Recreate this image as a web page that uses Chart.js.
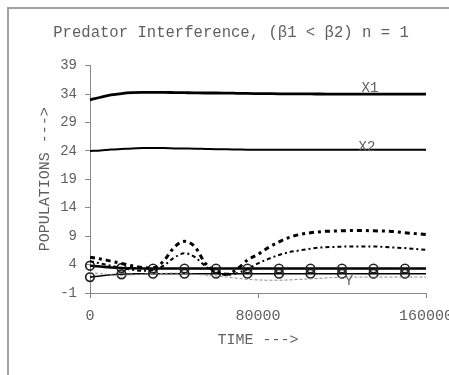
<!DOCTYPE html>
<html><head><meta charset="utf-8">
<script src="https://cdn.jsdelivr.net/npm/chart.js@4"></script>
<style>
html,body{margin:0;padding:0;background:#fff;}
#frame{position:absolute;left:7px;top:7px;width:470px;height:400px;border-left:2px solid #a0a0a0;border-top:2px solid #a0a0a0;}
#wrap{position:absolute;left:0;top:0;width:449px;height:375px;overflow:hidden;}
</style></head><body>
<div id="frame"></div>
<div id="wrap"><canvas id="c" width="449" height="375"></canvas></div>
<script>
// time points
const time = [0,5000,10000,15000,20000,25000,30000,35000,40000,45000,50000,55000,60000,65000,70000,75000,80000,85000,90000,95000,100000,105000,110000,115000,120000,125000,130000,135000,140000,145000,150000,155000,160000,162500];
const x1 = [33.0,33.45,33.85,34.1,34.25,34.3,34.3,34.3,34.28,34.25,34.22,34.2,34.2,34.18,34.15,34.12,34.1,34.08,34.06,34.05,34.04,34.03,34.02,34.01,34.0,34.0,34.0,34.0,34.0,34.0,34.0,34.0,34.0,34.0];
const x2 = [24.0,24.1,24.25,24.35,24.45,24.5,24.5,24.5,24.45,24.42,24.4,24.35,24.3,24.28,24.25,24.22,24.2,24.2,24.2,24.2,24.2,24.2,24.2,24.2,24.2,24.2,24.2,24.2,24.2,24.2,24.2,24.2,24.2,24.2];
const z1 = [5.3,5.0,4.6,4.2,3.8,3.5,3.4,4.6,7.0,8.1,7.1,4.2,2.8,2.3,3.2,4.8,5.8,7.0,8.0,8.8,9.3,9.6,9.8,9.9,9.95,10.0,10.0,9.95,9.9,9.8,9.6,9.45,9.3,9.2];
const z2 = [4.6,4.2,3.8,3.4,3.1,2.9,3.0,3.8,5.2,6.0,5.3,3.7,2.6,2.2,2.5,3.2,4.2,5.0,5.7,6.2,6.5,6.8,7.0,7.1,7.15,7.2,7.2,7.2,7.1,7.0,6.9,6.75,6.6,6.5];
const s3 = [3.8,3.65,3.5,3.4,3.35,3.32,3.3,3.3,3.3,3.3,3.3,3.3,3.3,3.3,3.3,3.3,3.3,3.3,3.3,3.3,3.3,3.3,3.3,3.3,3.3,3.3,3.3,3.3,3.3,3.3,3.3,3.3,3.3,3.3];
const s4 = [1.8,2.0,2.2,2.3,2.35,2.4,2.4,2.4,2.4,2.4,2.4,2.4,2.4,2.4,2.4,2.4,2.4,2.4,2.4,2.4,2.4,2.4,2.4,2.4,2.4,2.4,2.4,2.4,2.4,2.4,2.4,2.4,2.4,2.4];
const yPrey = [2.6,2.4,2.2,2.1,2.2,2.3,2.4,2.45,2.5,2.4,2.3,2.15,2.0,1.8,1.6,1.4,1.3,1.25,1.25,1.3,1.4,1.5,1.6,1.7,1.75,1.8,1.8,1.8,1.8,1.8,1.8,1.8,1.8,1.8];
const markerTimes = [0,15000,30000,45000,60000,75000,90000,105000,120000,135000,150000];
const xTicks = [0,80000,160000];
const yTicks = [-1,4,9,14,19,24,29,34,39];
const curveLabels = ['X1','X2','Y'];
const labelTime = [133300,131900,123300];
const labelValue = [35.0,24.6,1.1];

const pts = arr => arr.map((v,i)=>({x:time[i], y:v}));
const TXT = '#606060';
const FONT = 'Liberation Mono, Courier New, monospace';
const markerRadius = ctx => (ctx.raw && markerTimes.includes(ctx.raw.x)) ? 4.3 : 0;

const labelPlugin = {
  id:'curveLabels',
  afterDatasetsDraw(chart){
    const {ctx, scales:{x,y}} = chart;
    ctx.save();
    ctx.fillStyle = TXT;
    ctx.font = '14px ' + FONT;
    ctx.textAlign = 'center';
    ctx.textBaseline = 'middle';
    curveLabels.forEach((t,i)=>{
      ctx.fillText(t, x.getPixelForValue(labelTime[i]), y.getPixelForValue(labelValue[i]));
    });
    ctx.restore();
  }
};

const base = {fill:false, pointRadius:0, cubicInterpolationMode:'monotone', clip:false, borderColor:'#000'};

new Chart(document.getElementById('c'), {
  type:'line',
  data:{datasets:[
    Object.assign({}, base, {label:'Y', data:pts(yPrey), borderWidth:1, borderColor:'#8a8a8a', borderDash:[3,2]}),
    Object.assign({}, base, {label:'Z2', data:pts(z2), borderWidth:2, borderDash:[4,3,2,3]}),
    Object.assign({}, base, {label:'Z1', data:pts(z1), borderWidth:3, borderDash:[5,4,3,4]}),
    Object.assign({}, base, {label:'S4', data:pts(s4), borderWidth:1.6, pointRadius:markerRadius, pointBorderColor:'#222', pointBackgroundColor:'rgba(255,255,255,0)', pointBorderWidth:1.7}),
    Object.assign({}, base, {label:'S3', data:pts(s3), borderWidth:2.6, pointRadius:markerRadius, pointBorderColor:'#222', pointBackgroundColor:'rgba(255,255,255,0)', pointBorderWidth:1.7}),
    Object.assign({}, base, {label:'X2', data:pts(x2), borderWidth:2}),
    Object.assign({}, base, {label:'X1', data:pts(x1), borderWidth:2.8})
  ]},
  options:{
    responsive:false, animation:false, devicePixelRatio:1,
    layout:{padding:{left:36,right:23,top:0,bottom:0}},
    plugins:{
      legend:{display:false}, tooltip:{enabled:false},
      title:{display:true, text:'Predator Interference, (\u03b21 < \u03b22) n = 1', color:TXT,
        font:{family:FONT, size:15.6, weight:'normal'}, padding:{top:23,bottom:24}}
    },
    scales:{
      x:{type:'linear', min:0, max:160000,
        afterBuildTicks(s){ s.ticks = xTicks.map(v=>({value:v})); },
        afterFit(s){ s.height = 82; s.paddingLeft = 0; s.paddingRight = 0; },
        ticks:{color:TXT, font:{family:FONT,size:15}, padding:9, maxRotation:0, autoSkip:false, callback:v=>String(v)},
        grid:{display:true, drawOnChartArea:false, drawTicks:true, tickLength:5, color:'#888'},
        border:{display:true, color:'#888', width:1},
        title:{display:true, text:'TIME --->', color:TXT, font:{family:FONT,size:15}, padding:{top:0,bottom:26}}
      },
      y:{type:'linear', min:-1, max:39,
        afterBuildTicks(s){ s.ticks = yTicks.map(v=>({value:v})); },
        afterFit(s){ s.width = 54; s.paddingTop = 0; s.paddingBottom = 0; },
        ticks:{color:TXT, font:{family:FONT,size:14}, padding:8, autoSkip:false, callback:v=>String(v)},
        grid:{display:true, drawOnChartArea:false, drawTicks:true, tickLength:5, color:'#888'},
        border:{display:true, color:'#888', width:1},
        title:{display:true, text:'POPULATIONS --->', color:TXT, font:{family:FONT,size:15}, padding:{top:0,bottom:0}}
      }
    }
  },
  plugins:[labelPlugin]
});
</script>
</body></html>
